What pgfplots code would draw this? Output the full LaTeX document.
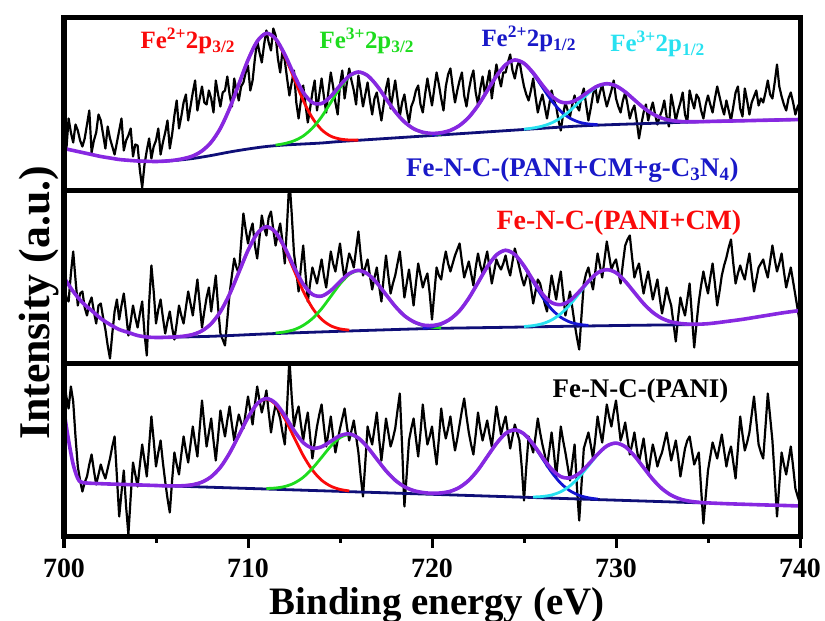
\documentclass[border=0pt]{standalone}
\usepackage{pgfplots}
\pgfplotsset{compat=1.18}
\usepackage{fontspec}
\setmainfont{Liberation Serif}
\definecolor{cRed}{RGB}{250,10,10}
\definecolor{cGreen}{RGB}{30,220,30}
\definecolor{cBlue}{RGB}{20,20,210}
\definecolor{cCyan}{RGB}{40,225,240}
\definecolor{cPurple}{RGB}{135,40,225}
\definecolor{cNavy}{RGB}{15,15,120}
\definecolor{cLabBlue}{RGB}{25,25,200}
\pgfplotsset{
 panel/.style={scale only axis, width=736bp, height=173bp, xmin=700, xmax=740, ymin=0, ymax=173,
   axis line style={line width=5bp}, axis on top, xtick=\empty, ytick=\empty, clip=true},
 dat/.style={black, line width=2.2bp, line join=round, mark=none},
 fitc/.style={line width=2.8bp, smooth, mark=none},
 env/.style={cPurple, line width=3.6bp, smooth, mark=none},
}
\newcommand{\pk}{\fontsize{25}{27}\selectfont\bfseries}
\newcommand{\sm}{\fontsize{27}{29}\selectfont\bfseries}
\begin{document}
\begin{tikzpicture}
\useasboundingbox (-64bp,-84.5bp) rectangle (761bp,536.5bp);
% ---------------- bottom panel: Fe-N-C-(PANI)
\begin{axis}[panel, at={(0,0)}, anchor=south west,
  xtick={700,710,720,730,740}, xticklabels={700,710,720,730,740},
  minor xtick={705,715,725,735}, xtick pos=bottom, tick align=outside,
  major tick length=11bp, minor tick length=6bp, tick style={line width=3bp, black},
  xticklabel style={font=\fontsize{28}{30}\selectfont\bfseries, anchor=base, yshift=-30bp}]
\addplot[dat] coordinates {
(700,162)(700.125,140)(700.25,128)(700.375,150)(700.5,135)(700.625,100)(700.75,70)(700.875,56)
(701,45)(701.125,54)(701.25,60)(701.375,72)(701.5,82)(701.625,66)(701.75,52)(701.875,62)
(702,72)(702.125,64)(702.25,58)(702.375,68)(702.5,78)(702.625,90)(702.75,100)(702.875,60)
(703,20)(703.125,44)(703.25,66)(703.375,30)(703.5,2)(703.625,40)(703.75,74)(703.875,62)
(704,50)(704.125,72)(704.25,92)(704.375,76)(704.5,60)(704.625,90)(704.75,120)(704.875,96)
(705,70)(705.125,84)(705.25,96)(705.375,74)(705.5,55)(705.625,38)(705.75,24)(705.875,56)
(706,84)(706.125,72)(706.25,62)(706.375,82)(706.5,100)(706.625,86)(706.75,74)(706.875,92)
(707,110)(707.125,94)(707.25,80)(707.375,108)(707.5,136)(707.625,112)(707.75,90)(707.875,104)
(708,118)(708.125,96)(708.25,76)(708.375,100)(708.5,126)(708.625,112)(708.75,100)(708.875,116)
(709,130)(709.125,112)(709.25,96)(709.375,110)(709.5,122)(709.625,114)(709.75,108)(709.875,124)
(710,140)(710.125,126)(710.25,112)(710.375,132)(710.5,150)(710.625,136)(710.75,124)(710.875,134)
(711,146)(711.125,124)(711.25,104)(711.375,120)(711.5,132)(711.625,126)(711.75,118)(711.875,104)
(712,92)(712.125,130)(712.25,178)(712.375,140)(712.5,110)(712.625,122)(712.75,130)(712.875,112)
(713,96)(713.125,112)(713.25,124)(713.375,100)(713.5,78)(713.625,94)(713.75,110)(713.875,122)
(714,132)(714.125,110)(714.25,90)(714.375,104)(714.5,120)(714.625,100)(714.75,84)(714.875,96)
(715,108)(715.125,118)(715.25,128)(715.375,110)(715.5,96)(715.625,106)(715.75,116)(715.875,100)
(716,84)(716.125,60)(716.25,40)(716.375,74)(716.5,110)(716.625,100)(716.75,92)(716.875,108)
(717,124)(717.125,98)(717.25,76)(717.375,96)(717.5,118)(717.625,104)(717.75,90)(717.875,98)
(718,108)(718.125,126)(718.25,143)(718.375,90)(718.5,30)(718.625,62)(718.75,96)(718.875,108)
(719,118)(719.125,98)(719.25,80)(719.375,104)(719.5,132)(719.625,110)(719.75,92)(719.875,100)
(720,110)(720.125,90)(720.25,72)(720.375,98)(720.5,128)(720.625,110)(720.75,98)(720.875,108)
(721,120)(721.125,102)(721.25,86)(721.375,98)(721.5,112)(721.625,126)(721.75,138)(721.875,120)
(722,104)(722.125,92)(722.25,82)(722.375,102)(722.5,124)(722.625,108)(722.75,96)(722.875,106)
(723,116)(723.125,102)(723.25,90)(723.375,110)(723.5,130)(723.625,116)(723.75,102)(723.875,112)
(724,120)(724.125,104)(724.25,88)(724.375,100)(724.5,112)(724.625,104)(724.75,96)(724.875,70)
(725,36)(725.125,70)(725.25,100)(725.375,92)(725.5,84)(725.625,100)(725.75,118)(725.875,104)
(726,92)(726.125,82)(726.25,70)(726.375,86)(726.5,104)(726.625,84)(726.75,60)(726.875,84)
(727,110)(727.125,96)(727.25,84)(727.375,70)(727.5,56)(727.625,74)(727.75,92)(727.875,50)
(728,16)(728.125,52)(728.25,88)(728.375,96)(728.5,104)(728.625,92)(728.75,78)(728.875,98)
(729,120)(729.125,106)(729.25,94)(729.375,112)(729.5,132)(729.625,120)(729.75,110)(729.875,124)
(730,136)(730.125,116)(730.25,96)(730.375,104)(730.5,114)(730.625,98)(730.75,82)(730.875,92)
(731,104)(731.125,88)(731.25,74)(731.375,86)(731.5,98)(731.625,80)(731.75,62)(731.875,78)
(732,92)(732.125,82)(732.25,70)(732.375,78)(732.5,84)(732.625,94)(732.75,104)(732.875,90)
(733,76)(733.125,86)(733.25,96)(733.375,80)(733.5,60)(733.625,74)(733.75,88)(733.875,96)
(734,100)(734.125,86)(734.25,72)(734.375,78)(734.5,84)(734.625,48)(734.75,13)(734.875,40)
(735,66)(735.125,80)(735.25,94)(735.375,86)(735.5,78)(735.625,90)(735.75,102)(735.875,86)
(736,70)(736.125,82)(736.25,90)(736.375,74)(736.5,58)(736.625,88)(736.75,120)(736.875,102)
(737,86)(737.125,94)(737.25,104)(737.375,122)(737.5,140)(737.625,116)(737.75,92)(737.875,84)
(738,78)(738.125,110)(738.25,143)(738.375,120)(738.5,96)(738.625,60)(738.75,20)(738.875,52)
(739,84)(739.125,72)(739.25,62)(739.375,76)(739.5,90)(739.625,70)(739.75,48)(739.875,40)
(740,33)};
\addplot[cNavy, line width=2.8bp] coordinates {(705,51)(735,33.4)};
\addplot[fitc, cRed] coordinates {(706.5,50.8)(707,51.8)(707.5,54.4)(708,59.8)(708.5,69.2)(709,83.4)(709.5,101.1)(710,119)(710.5,132.6)(711,137.5)(711.5,132)(712,117.8)(712.5,99.3)(713,81)(713.5,66.4)(714,56.3)(714.5,50.3)(715,47.1)(715.5,45.6)};
\addplot[fitc, cGreen] coordinates {(711,48)(711.5,48.5)(712,50)(712.5,53.3)(713,59.2)(713.5,68.1)(714,79.1)(714.5,90.3)(715,98.8)(715.5,101.9)(716,98.3)(716.5,89.2)(717,77.4)(717.5,65.7)(718,56.3)(718.5,49.8)(719,45.9)(719.5,43.8)(720,42.7)};
\addplot[fitc, cBlue] coordinates {(720,42.7)(720.5,43.4)(721,45.2)(721.5,49.2)(722,56.2)(722.5,66.6)(723,79.8)(723.5,92.9)(724,103)(724.5,106.6)(725,102.4)(725.5,91.8)(726,78)(726.5,64.3)(727,53.2)(727.5,45.7)(728,41.1)(728.5,38.7)(729,37.4)};
\addplot[fitc, cCyan] coordinates {(725.5,39.5)(726,40)(726.5,41.5)(727,44.8)(727.5,50.7)(728,59.5)(728.5,70.6)(729,81.8)(729.5,90.3)(730,93.4)(730.5,89.8)(731,80.7)(731.5,68.9)(732,57.2)(732.5,47.8)(733,41.3)(733.5,37.4)(734,35.3)(734.5,34.2)};
\addplot[env] coordinates {(700,125)(700.25,96)(700.5,72)(700.75,58)(701,54)(702,52.8)(703,52.2)(704,51.6)(705,51)(705.5,50.7)(706,50.6)(706.5,50.8)(707,51.8)(707.5,54.4)(708,59.8)(708.5,69.2)(709,83.4)(709.5,101.1)(710,119)(710.5,132.8)(711,138)(711.5,133.3)(712,120.9)(712.5,106)(713,93.9)(713.5,88.4)(714,89.7)(714.5,95.2)(715,100.8)(715.5,102.6)(716,98.5)(716.5,89.2)(717,77.4)(717.5,65.7)(718,56.3)(718.5,49.8)(719,45.9)(719.5,44)(720,43.2)(720.5,43.6)(721,45.2)(721.5,49.2)(722,56.2)(722.5,66.6)(723,79.8)(723.5,92.9)(724,103)(724.5,106.6)(725,102.6)(725.5,92.3)(726,79.3)(726.5,67.4)(727,59.9)(727.5,58.6)(728,63.1)(728.5,72.1)(729,82.3)(729.5,90.5)(730,93.4)(730.5,89.8)(731,80.7)(731.5,68.9)(732,57.2)(732.5,47.8)(733,41.3)(733.5,37.4)(734,35.3)(734.5,34.2)(735,33.6)(736,32.8)(737,32.2)(738,31.6)(739,31.1)(740,30.5)};
\node[anchor=base east, font=\sm, text=black] at (axis cs:736.3,138.5) {Fe-N-C-(PANI)};
\end{axis}
% ---------------- middle panel: Fe-N-C-(PANI+CM)
\begin{axis}[panel, at={(0,173bp)}, anchor=south west]
\addplot[dat] coordinates {
(700,80)(700.125,66)(700.25,62)(700.375,90)(700.5,112)(700.625,84)(700.75,58)(700.875,70)
(701,72)(701.125,56)(701.25,48)(701.375,60)(701.5,66)(701.625,52)(701.75,40)(701.875,58)
(702,60)(702.125,46)(702.25,34)(702.375,18)(702.5,5)(702.625,30)(702.75,52)(702.875,64)
(703,44)(703.125,58)(703.25,70)(703.375,50)(703.5,28)(703.625,42)(703.75,58)(703.875,46)
(704,36)(704.125,50)(704.25,62)(704.375,30)(704.5,8)(704.625,60)(704.75,98)(704.875,72)
(705,40)(705.125,54)(705.25,64)(705.375,46)(705.5,30)(705.625,42)(705.75,52)(705.875,36)
(706,24)(706.125,40)(706.25,58)(706.375,48)(706.5,40)(706.625,56)(706.75,72)(706.875,60)
(707,48)(707.125,66)(707.25,84)(707.375,60)(707.5,36)(707.625,52)(707.75,66)(707.875,76)
(708,52)(708.125,70)(708.25,88)(708.375,56)(708.5,30)(708.625,24)(708.75,18)(708.875,44)
(709,70)(709.125,88)(709.25,105)(709.375,96)(709.5,90)(709.625,120)(709.75,150)(709.875,134)
(710,120)(710.125,132)(710.25,140)(710.375,118)(710.5,105)(710.625,126)(710.75,148)(710.875,136)
(711,128)(711.125,146)(711.25,152)(711.375,134)(711.5,118)(711.625,130)(711.75,140)(711.875,122)
(712,100)(712.125,140)(712.25,185)(712.375,150)(712.5,110)(712.625,92)(712.75,72)(712.875,96)
(713,118)(713.125,90)(713.25,62)(713.375,80)(713.5,96)(713.625,88)(713.75,80)(713.875,92)
(714,104)(714.125,88)(714.25,76)(714.375,94)(714.5,112)(714.625,100)(714.75,92)(714.875,106)
(715,120)(715.125,100)(715.25,84)(715.375,98)(715.5,110)(715.625,104)(715.75,96)(715.875,114)
(716,132)(716.125,108)(716.25,88)(716.375,96)(716.5,104)(716.625,88)(716.75,74)(716.875,86)
(717,96)(717.125,78)(717.25,62)(717.375,86)(717.5,108)(717.625,88)(717.75,70)(717.875,80)
(718,88)(718.125,100)(718.25,112)(718.375,90)(718.5,66)(718.625,80)(718.75,94)(718.875,76)
(719,58)(719.125,80)(719.25,100)(719.375,88)(719.5,76)(719.625,84)(719.75,90)(719.875,70)
(720,44)(720.125,70)(720.25,96)(720.375,88)(720.5,84)(720.625,100)(720.75,112)(720.875,100)
(721,92)(721.125,100)(721.25,108)(721.375,114)(721.5,120)(721.625,102)(721.75,86)(721.875,94)
(722,102)(722.125,90)(722.25,78)(722.375,96)(722.5,110)(722.625,98)(722.75,90)(722.875,102)
(723,112)(723.125,96)(723.25,80)(723.375,92)(723.5,104)(723.625,98)(723.75,94)(723.875,100)
(724,108)(724.125,96)(724.25,88)(724.375,102)(724.5,115)(724.625,106)(724.75,96)(724.875,86)
(725,78)(725.125,86)(725.25,92)(725.375,76)(725.5,60)(725.625,72)(725.75,84)(725.875,80)
(726,70)(726.125,60)(726.25,52)(726.375,70)(726.5,88)(726.625,76)(726.75,64)(726.875,80)
(727,92)(727.125,70)(727.25,48)(727.375,60)(727.5,72)(727.625,56)(727.75,40)(727.875,26)
(728,14)(728.125,48)(728.25,80)(728.375,90)(728.5,96)(728.625,84)(728.75,74)(728.875,92)
(729,110)(729.125,98)(729.25,86)(729.375,104)(729.5,122)(729.625,108)(729.75,94)(729.875,100)
(730,104)(730.125,92)(730.25,80)(730.375,100)(730.5,118)(730.625,124)(730.75,128)(730.875,106)
(731,86)(731.125,94)(731.25,100)(731.375,84)(731.5,70)(731.625,82)(731.75,92)(731.875,78)
(732,64)(732.125,74)(732.25,84)(732.375,66)(732.5,50)(732.625,62)(732.75,76)(732.875,66)
(733,58)(733.125,40)(733.25,22)(733.375,46)(733.5,66)(733.625,56)(733.75,48)(733.875,64)
(734,80)(734.125,48)(734.25,16)(734.375,40)(734.5,62)(734.625,78)(734.75,92)(734.875,80)
(735,70)(735.125,86)(735.25,100)(735.375,80)(735.5,58)(735.625,72)(735.75,88)(735.875,98)
(736,106)(736.125,116)(736.25,124)(736.375,100)(736.5,80)(736.625,90)(736.75,98)(736.875,90)
(737,84)(737.125,98)(737.25,110)(737.375,90)(737.5,72)(737.625,84)(737.75,96)(737.875,100)
(738,104)(738.125,94)(738.25,86)(738.375,102)(738.5,118)(738.625,104)(738.75,92)(738.875,100)
(739,110)(739.125,92)(739.25,76)(739.375,86)(739.5,96)(739.625,82)(739.75,68)(739.875,54)
(740,40)};
\addplot[fitc, cNavy] coordinates {(705,26)(708,27.2)(711,29.6)(714,31.6)(717,33.4)(720,35)(724,36.2)(728,37.4)(731,38.2)(734,38.8)};
\addplot[fitc, cRed] coordinates {(706.5,27.3)(707,29)(707.5,32.7)(708,39.8)(708.5,51.8)(709,69.3)(709.5,91.1)(710,113.1)(710.5,130)(711,136.6)(711.5,130.8)(712,114.6)(712.5,93.3)(713,72.3)(713.5,55.5)(714,44.2)(714.5,37.7)(715,34.6)(715.5,33.4)};
\addplot[fitc, cGreen] coordinates {(711.5,30.5)(712,31.6)(712.5,33.8)(713,38.1)(713.5,44.9)(714,54.8)(714.5,67.1)(715,79.5)(715.5,89)(716,92.8)(716.5,89.6)(717,80.7)(717.5,68.9)(718,57.2)(718.5,47.8)(719,41.6)(719.5,37.9)(720,36.3)(720.5,35.6)};
\addplot[fitc, cBlue] coordinates {(719.5,35.3)(720,36.7)(720.5,39.3)(721,44.4)(721.5,52.8)(722,65.3)(722.5,80.8)(723,96.6)(723.5,108.5)(724,113.2)(724.5,108.8)(725,97.2)(725.5,81.7)(726,66.5)(726.5,54.3)(727,46.2)(727.5,41.4)(728,39.1)(728.5,38.1)};
\addplot[fitc, cCyan] coordinates {(725,37)(725.5,37.9)(726,39.8)(726.5,43.5)(727,49.8)(727.5,58.8)(728,70.2)(728.5,81.6)(729,90.5)(729.5,93.8)(730,90.8)(730.5,82.2)(731,71)(731.5,59.9)(732,51.1)(732.5,45.1)(733,41.6)(733.5,40)(734,39.3)};
\addplot[env] coordinates {(700,86)(700.5,72)(701,61)(701.5,53)(702,45)(702.5,39)(703,34)(703.5,31)(704,28)(704.5,26.5)(705,26)(705.5,26.1)(706,26.5)(706.5,27.3)(707,29)(707.5,32.7)(708,39.8)(708.5,51.8)(709,69.3)(709.5,91.1)(710,113.1)(710.5,130)(711,136.8)(711.5,131.3)(712,115.9)(712.5,96.5)(713,79.4)(713.5,69.1)(714,67.4)(714.5,72.9)(715,81.9)(715.5,89.9)(716,93.1)(716.5,89.6)(717,80.7)(717.5,68.9)(718,57.2)(718.5,47.8)(719,41.8)(719.5,38.5)(720,38)(720.5,39.8)(721,44.6)(721.5,52.8)(722,65.3)(722.5,80.8)(723,96.6)(723.5,108.5)(724,113.2)(724.5,109)(725,97.7)(725.5,83)(726,69.5)(726.5,60.9)(727,58.9)(727.5,63)(728,71.9)(728.5,82.2)(729,90.7)(729.5,93.8)(730,90.8)(730.5,82.2)(731,71)(731.5,59.9)(732,51.1)(732.5,45.1)(733,41.6)(733.5,40)(734,39.3)(734.5,39.3)(735,39.8)(735.5,40.8)(736,42)(736.5,43.2)(737,44.5)(737.5,46)(738,47.5)(738.5,49)(739,50.5)(739.5,51.8)(740,53)};
\node[anchor=base east, font=\fontsize{28}{30}\selectfont\bfseries, text=cRed] at (axis cs:737,133.5) {Fe-N-C-(PANI+CM)};
\end{axis}
% ---------------- top panel: Fe-N-C-(PANI+CM+g-C3N4)
\begin{axis}[panel, at={(0,346bp)}, anchor=south west]
\addplot[dat] coordinates {
(700,55)(700.125,40)(700.25,72)(700.375,58)(700.5,48)(700.625,66)(700.75,60)(700.875,50)
(701,44)(701.125,52)(701.25,66)(701.375,80)(701.5,38)(701.625,50)(701.75,58)(701.875,76)
(702,70)(702.125,56)(702.25,42)(702.375,64)(702.5,52)(702.625,44)(702.75,36)(702.875,48)
(703,60)(703.125,72)(703.25,40)(703.375,50)(703.5,55)(703.625,62)(703.75,34)(703.875,46)
(704,45)(704.125,20)(704.25,3)(704.375,26)(704.5,40)(704.625,52)(704.75,32)(704.875,44)
(705,50)(705.125,62)(705.25,36)(705.375,48)(705.5,58)(705.625,70)(705.75,42)(705.875,56)
(706,75)(706.125,90)(706.25,62)(706.375,74)(706.5,88)(706.625,96)(706.75,70)(706.875,84)
(707,98)(707.125,110)(707.25,80)(707.375,92)(707.5,104)(707.625,88)(707.75,86)(707.875,100)
(708,92)(708.125,78)(708.25,110)(708.375,96)(708.5,84)(708.625,98)(708.75,100)(708.875,114)
(709,96)(709.125,84)(709.25,112)(709.375,100)(709.5,90)(709.625,104)(709.75,108)(709.875,118)
(710,125)(710.125,100)(710.25,110)(710.375,132)(710.5,150)(710.625,138)(710.75,128)(710.875,146)
(711,160)(711.125,148)(711.25,140)(711.375,162)(711.5,155)(711.625,132)(711.75,118)(711.875,140)
(712,130)(712.125,112)(712.25,95)(712.375,108)(712.5,120)(712.625,88)(712.75,72)(712.875,90)
(713,105)(713.125,86)(713.25,68)(713.375,82)(713.5,98)(713.625,110)(713.75,80)(713.875,96)
(714,112)(714.125,94)(714.25,78)(714.375,100)(714.5,118)(714.625,104)(714.75,88)(714.875,76)
(715,106)(715.125,120)(715.25,92)(715.375,108)(715.5,122)(715.625,110)(715.75,100)(715.875,86)
(716,115)(716.125,100)(716.25,84)(716.375,96)(716.5,108)(716.625,90)(716.75,76)(716.875,92)
(717,98)(717.125,84)(717.25,70)(717.375,86)(717.5,102)(717.625,112)(717.75,82)(717.875,96)
(718,110)(718.125,92)(718.25,74)(718.375,88)(718.5,96)(718.625,80)(718.75,68)(718.875,84)
(719,90)(719.125,100)(719.25,105)(719.375,86)(719.5,78)(719.625,96)(719.75,112)(719.875,98)
(720,85)(720.125,102)(720.25,118)(720.375,106)(720.5,92)(720.625,80)(720.75,104)(720.875,116)
(721,122)(721.125,104)(721.25,88)(721.375,100)(721.5,110)(721.625,118)(721.75,95)(721.875,84)
(722,100)(722.125,112)(722.25,120)(722.375,98)(722.5,86)(722.625,102)(722.75,114)(722.875,96)
(723,108)(723.125,120)(723.25,92)(723.375,110)(723.5,126)(723.625,114)(723.75,104)(723.875,118)
(724,118)(724.125,128)(724.25,136)(724.375,120)(724.5,112)(724.625,124)(724.75,130)(724.875,116)
(725,104)(725.125,96)(725.25,90)(725.375,100)(725.5,112)(725.625,94)(725.75,78)(725.875,88)
(726,96)(726.125,84)(726.25,72)(726.375,86)(726.5,100)(726.625,90)(726.75,84)(726.875,70)
(727,60)(727.125,76)(727.25,88)(727.375,80)(727.5,74)(727.625,86)(727.75,95)(727.875,84)
(728,80)(728.125,94)(728.25,102)(728.375,86)(728.5,70)(728.625,82)(728.75,96)(728.875,104)
(729,88)(729.125,98)(729.25,106)(729.375,94)(729.5,84)(729.625,92)(729.75,100)(729.875,110)
(730,92)(730.125,84)(730.25,78)(730.375,90)(730.5,98)(730.625,86)(730.75,72)(730.875,80)
(731,85)(731.125,70)(731.25,52)(731.375,66)(731.5,78)(731.625,86)(731.75,70)(731.875,80)
(732,88)(732.125,76)(732.25,66)(732.375,74)(732.5,80)(732.625,90)(732.75,74)(732.875,64)
(733,96)(733.125,84)(733.25,70)(733.375,80)(733.5,88)(733.625,98)(733.75,76)(733.875,68)
(734,100)(734.125,90)(734.25,82)(734.375,96)(734.5,92)(734.625,80)(734.75,72)(734.875,86)
(735,95)(735.125,86)(735.25,78)(735.375,92)(735.5,104)(735.625,94)(735.75,84)(735.875,76)
(736,90)(736.125,80)(736.25,70)(736.375,84)(736.5,98)(736.625,104)(736.75,82)(736.875,74)
(737,102)(737.125,90)(737.25,76)(737.375,88)(737.5,94)(737.625,100)(737.75,85)(737.875,92)
(738,88)(738.125,98)(738.25,110)(738.375,96)(738.5,92)(738.625,108)(738.75,126)(738.875,104)
(739,94)(739.125,86)(739.25,80)(739.375,92)(739.5,98)(739.625,88)(739.75,76)(739.875,84)
(740,88)};
\addplot[fitc, cNavy] coordinates {(704,29.5)(705,29)(706,30)(707,32)(708,35)(709,38.5)(710,41.5)(711,44)(712,45.5)(713,46.5)(714,47.5)(715,49)(717,51.4)(720,55)(723,58.6)(725,61)(728,64.5)(730,66)(732,67.2)(735,69)(740,71)};
\addplot[fitc, cRed] coordinates {(706.5,31.9)(707,34.5)(707.5,39.6)(708,48.3)(708.5,62.2)(709,82.1)(709.5,106.2)(710,130.5)(710.5,149.2)(711,157)(711.5,151.2)(712,134.5)(712.5,112.2)(713,90.1)(713.5,72.5)(714,60.8)(714.5,54.3)(715,51.5)(715.5,50.5)(716,50.4)};
\addplot[fitc, cGreen] coordinates {(711.5,45.4)(712,47)(712.5,49.7)(713,54.5)(713.5,62.4)(714,73.7)(714.5,88)(715,102.6)(715.5,113.7)(716,118.2)(716.5,114.9)(717,105)(717.5,91.8)(718,78.8)(718.5,68.6)(719,61.8)(719.5,58.1)(720,56.5)(720.5,56.15)};
\addplot[fitc, cBlue] coordinates {(720,55.6)(720.5,57.2)(721,60)(721.5,65.1)(722,73.2)(722.5,85)(723,99.6)(723.5,114.4)(724,125.7)(724.5,130.4)(725,126.9)(725.5,116.8)(726,103.2)(726.5,89.8)(727,79.2)(727.5,72.3)(728,68.3)(728.5,66.5)(729,65.9)};
\addplot[fitc, cCyan] coordinates {(725,61.3)(725.5,62.5)(726,64.4)(726.5,67.6)(727,72.7)(727.5,79.8)(728,88.5)(728.5,97.2)(729,103.9)(729.5,106.6)(730,104.6)(730.5,98.6)(731,90.6)(731.5,82.7)(732,76.5)(732.5,72.3)(733,70)(733.5,69)(734,68.7)};
\addplot[env] coordinates {(700,42)(700.5,40)(701,38)(701.5,36)(702,34)(702.5,32.5)(703,31)(703.5,30.2)(704,29.5)(704.5,29.2)(705,29)(705.5,29.4)(706,30.3)(706.5,31.9)(707,34.5)(707.5,39.6)(708,48.3)(708.5,62.2)(709,82.1)(709.5,106.2)(710,130.5)(710.5,149.2)(711,157.2)(711.5,151.8)(712,136)(712.5,115.9)(713,98.1)(713.5,87.9)(714,87)(714.5,94.1)(715,105.1)(715.5,114.6)(716,118.5)(716.5,114.9)(717,105)(717.5,91.8)(718,78.8)(718.5,68.6)(719,61.8)(719.5,58.3)(720,57.1)(720.5,57.8)(721,60.2)(721.5,65.1)(722,73.2)(722.5,85)(723,99.6)(723.5,114.4)(724,125.7)(724.5,130.5)(725,127.2)(725.5,117.7)(726,105.4)(726.5,94.6)(727,88.5)(727.5,88.1)(728,92.3)(728.5,98.8)(729,104.5)(729.5,106.8)(730,104.6)(730.5,98.6)(731,90.6)(731.5,82.7)(732,76.5)(732.5,72.3)(733,70)(733.5,69)(734,68.7)(734.5,68.8)(735,69)(736,69.4)(737,69.8)(738,70.2)(739,70.6)(740,71)};
\node[anchor=base west, font=\pk, text=cRed] at (axis cs:703.97,141.5) {Fe\textsuperscript{2+}2p\textsubscript{3/2}};
\node[anchor=base west, font=\pk, text=cGreen] at (axis cs:713.7,141.5) {Fe\textsuperscript{3+}2p\textsubscript{3/2}};
\node[anchor=base west, font=\pk, text=cLabBlue] at (axis cs:722.5,143.5) {Fe\textsuperscript{2+}2p\textsubscript{1/2}};
\node[anchor=base west, font=\pk, text=cCyan] at (axis cs:729.5,138.5) {Fe\textsuperscript{3+}2p\textsubscript{1/2}};
\node[anchor=base east, font=\sm, text=cLabBlue] at (axis cs:736.85,13.5) {Fe-N-C-(PANI+CM+g-C\textsubscript{3}N\textsubscript{4})};
\end{axis}
\node[rotate=90, anchor=base, font=\fontsize{44}{46}\selectfont\bfseries] at (-15bp,233.5bp) {Intensity (a.u.)};
\node[anchor=base, font=\fontsize{39}{41}\selectfont\bfseries] at (373bp,-77.5bp) {Binding energy (eV)};
\end{tikzpicture}
\end{document}
